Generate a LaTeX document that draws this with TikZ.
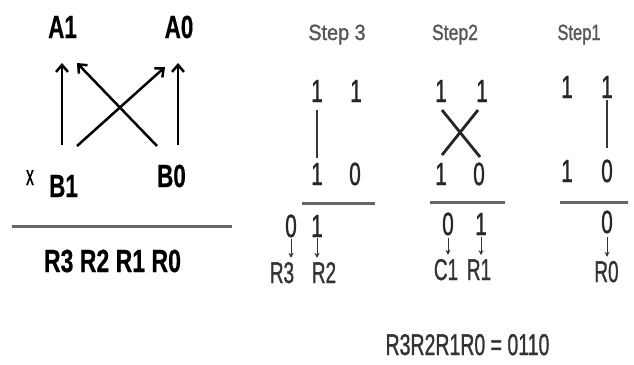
\documentclass[tikz,border=0pt]{standalone}
\usepackage{fontspec}
\usepackage{graphicx}
\setmainfont{Liberation Sans}
% slightly emboldened face for the condensed digits and labels
\newfontfamily\heavyfont[FakeBold=1.4]{Liberation Sans}
\newfontfamily\boldheavy[FakeBold=0.6]{Liberation Sans Bold}
\usetikzlibrary{arrows.meta}
% horizontally condensed text
\newcommand\cond[2]{\scalebox{#1}[1]{#2}}

\begin{document}
\begin{tikzpicture}[x=1pt,y=-1pt,
  boldlbl/.style={font=\fontsize{32}{36}\boldheavy, anchor=base, inner sep=0pt, text=black},
  smallx/.style={font=\fontsize{28}{30}\heavyfont, anchor=base, inner sep=0pt, text=black},
  steplbl/.style={font=\fontsize{22}{26}\heavyfont, anchor=base, inner sep=0pt, text=black!66},
  dig/.style={font=\fontsize{32}{36}\heavyfont, anchor=base, inner sep=0pt, text=black!85},
  res/.style={font=\fontsize{30}{34}\heavyfont, anchor=base, inner sep=0pt, text=black!80},
  bigarrow/.style={line width=2.5pt, -{Straight Barb[length=7pt,width=12pt]}},
  rule/.style={line width=3pt, black!60},
  link/.style={line width=1.8pt, black!78},
  cross/.style={line width=2.8pt, black!85},
  drop/.style={line width=0.9pt, black!80, -{Stealth[length=5pt,width=5pt]}},
]
\useasboundingbox (0,0) rectangle (634,364);

% ---------- left: partial products of a 2-bit multiplication ----------
\node[boldlbl] (A1) at (62.5,38) {\cond{0.7}{A1}};
\node[boldlbl] (A0) at (179,38) {\cond{0.7}{A0}};
\node[smallx] (x) at (30,185) {\cond{0.55}{x}};
\node[boldlbl] (B1) at (63.5,197) {\cond{0.7}{B1}};
\node[boldlbl] (B0) at (171.5,187) {\cond{0.7}{B0}};

\coordinate (b1up) at (62,145);   \coordinate (a1dn) at (62,63);
\coordinate (b0up) at (178,145);  \coordinate (a0dn) at (178,63);
\coordinate (b1x) at (77,146);    \coordinate (a0x) at (165,67);
\coordinate (b0x) at (157,146);   \coordinate (a1x) at (77,63);

\draw[bigarrow] (b1up) -- (a1dn);
\draw[bigarrow] (b0up) -- (a0dn);
\draw[bigarrow] (b1x) -- (a0x);
\draw[bigarrow] (b0x) -- (a1x);

\coordinate (ruleL) at (12,226);  \coordinate (ruleR) at (232,226);
\draw[rule] (ruleL) -- (ruleR);
\node[boldlbl] (R) at (112.5,272) {\cond{0.72}{R3 R2 R1 R0}};

% ---------- Step 3 ----------
\node[steplbl] (st3) at (337,40) {\cond{0.9}{Step 3}};
\node[dig] (s3a) at (317,102) {\cond{0.65}{1}};
\node[dig] (s3b) at (356,102) {\cond{0.65}{1}};
\node[dig] (s3c) at (317,185) {\cond{0.65}{1}};
\node[dig] (s3d) at (355,185) {\cond{0.65}{0}};
\draw[link, shorten <=8pt, shorten >=5pt] (s3a.south) -- (s3c.north);
\coordinate (r3L) at (302,203);  \coordinate (r3R) at (375,203);
\draw[rule] (r3L) -- (r3R);
\node[dig] (s3e) at (291,237) {\cond{0.65}{0}};
\node[dig] (s3f) at (317,237) {\cond{0.65}{1}};
\node[res] (R3) at (282,283) {\cond{0.63}{R3}};
\node[res] (R2) at (324,283) {\cond{0.63}{R2}};
\draw[drop, shorten <=1pt, shorten >=4pt] (s3e.south) -- (s3e.south |- R3.north);
\draw[drop, shorten <=1pt, shorten >=4pt] (s3f.south) -- (s3f.south |- R2.north);

% ---------- Step 2 ----------
\node[steplbl] (st2) at (455,40) {\cond{0.8}{Step2}};
\node[dig] (s2a) at (441,102) {\cond{0.65}{1}};
\node[dig] (s2b) at (482,102) {\cond{0.65}{1}};
\node[dig] (s2c) at (441,185) {\cond{0.65}{1}};
\node[dig] (s2d) at (479,185) {\cond{0.65}{0}};
\coordinate (x2a) at (442,110);  \coordinate (x2d) at (480,157);
\coordinate (x2b) at (478,110);  \coordinate (x2c) at (442,155);
\draw[cross] (x2a) -- (x2d);
\draw[cross] (x2b) -- (x2c);
\coordinate (r2L) at (430,202);  \coordinate (r2R) at (505,202);
\draw[rule] (r2L) -- (r2R);
\node[dig] (s2e) at (448,235) {\cond{0.65}{0}};
\node[dig] (s2f) at (481,235) {\cond{0.65}{1}};
\node[res] (C1) at (446,280) {\cond{0.63}{C1}};
\node[res] (R1) at (479,280) {\cond{0.63}{R1}};
\draw[drop, shorten <=2pt, shorten >=4pt] (s2e.south) -- (s2e.south |- C1.north);
\draw[drop, shorten <=2pt, shorten >=4pt] (s2f.south) -- (s2f.south |- R1.north);

% ---------- Step 1 ----------
\node[steplbl] (st1) at (579,40) {\cond{0.75}{Step1}};
\node[dig] (s1a) at (567,98) {\cond{0.65}{1}};
\node[dig] (s1b) at (607,98) {\cond{0.65}{1}};
\node[dig] (s1c) at (567,182) {\cond{0.65}{1}};
\node[dig] (s1d) at (607,182) {\cond{0.65}{0}};
\draw[link, shorten <=2pt, shorten >=11pt] (s1b.south) -- (s1d.north);
\coordinate (r1L) at (560,202);  \coordinate (r1R) at (628,202);
\draw[rule] (r1L) -- (r1R);
\node[dig] (s1e) at (607,233) {\cond{0.65}{0}};
\node[res] (R0) at (606.5,282) {\cond{0.63}{R0}};
\draw[drop, shorten <=3pt, shorten >=4pt] (s1e.south) -- (s1e.south |- R0.north);

% ---------- result ----------
\node[res] (eq) at (467.5,355) {\cond{0.65}{R3R2R1R0 = 0110}};
\end{tikzpicture}
\end{document}
